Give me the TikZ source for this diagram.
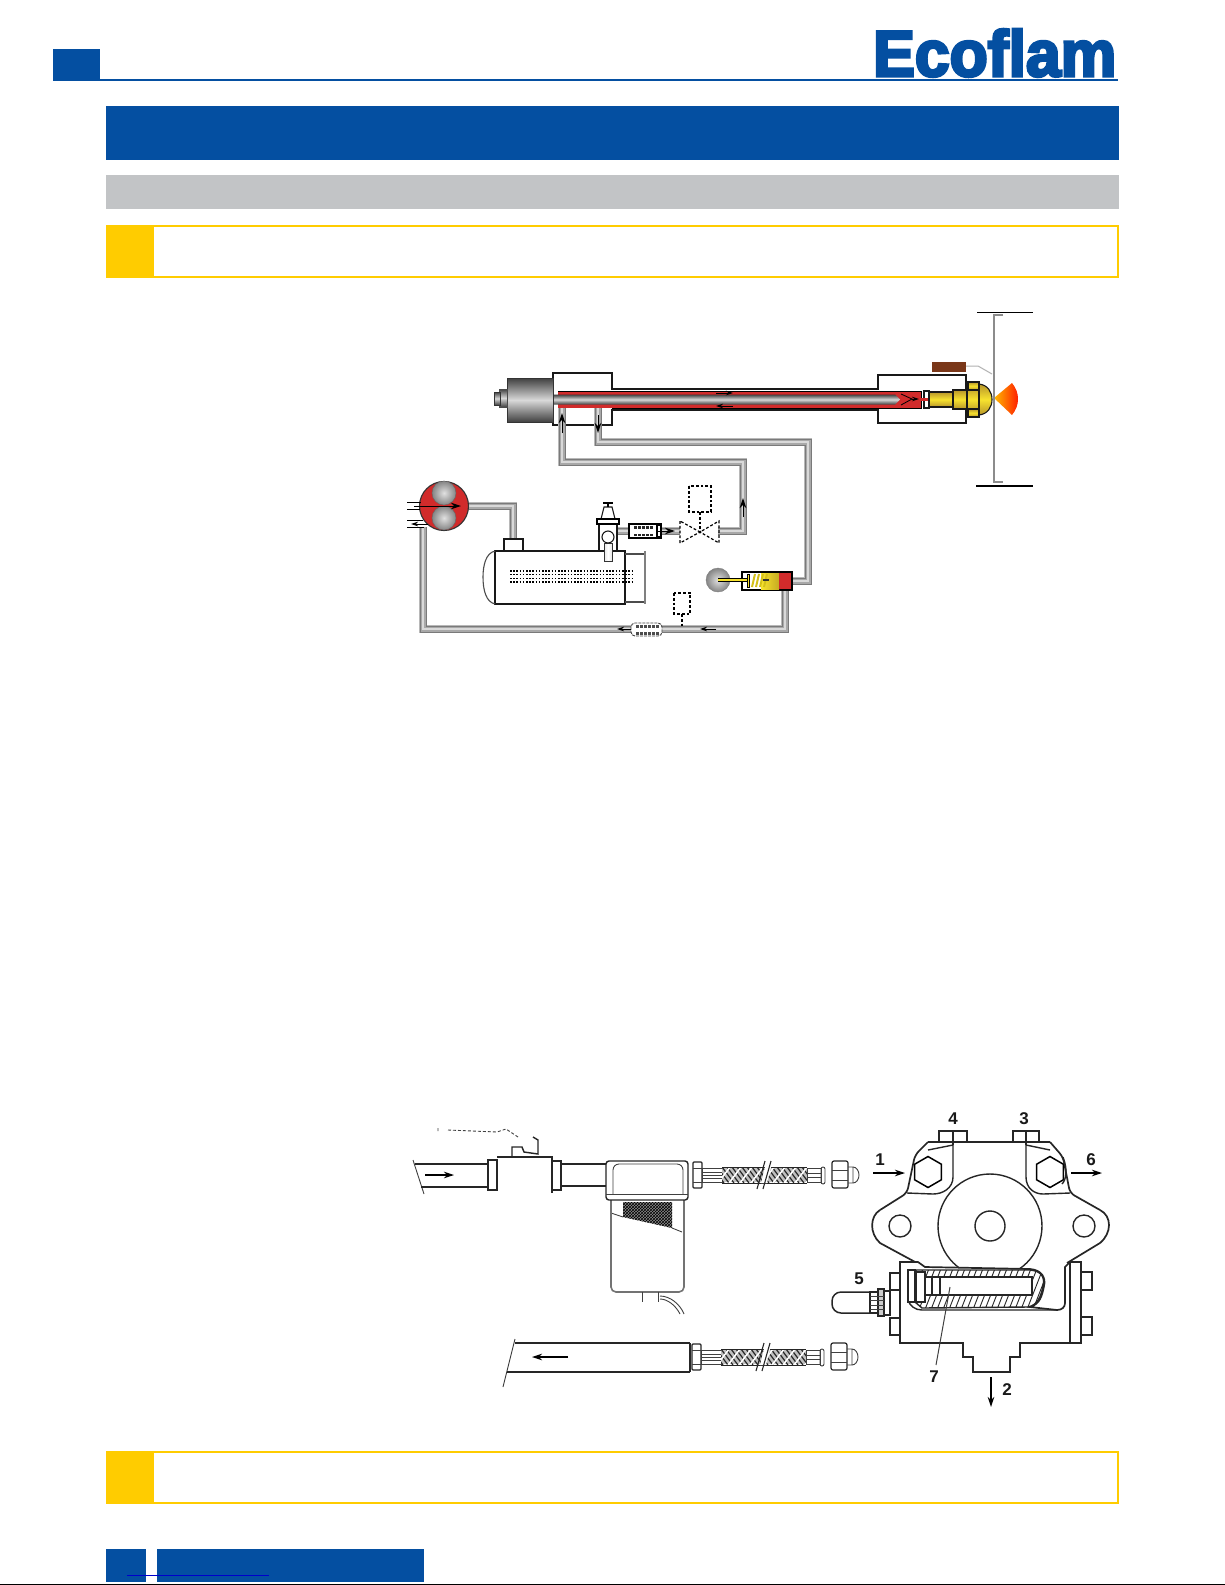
\documentclass[tikz,border=0pt]{standalone}
\usepackage{graphicx}
\usepackage{fontspec}
\setmainfont{Liberation Sans}
\newfontfamily\logofont[FakeBold=4.5]{Liberation Sans Bold}
\usetikzlibrary{patterns,shapes.geometric,arrows.meta}
\definecolor{ecoblue}{HTML}{044FA1}
\definecolor{ecoyellow}{HTML}{FFCC00}
\definecolor{ecogrey}{HTML}{C2C4C6}
\definecolor{ecored}{HTML}{D12B2B}
\definecolor{brassA}{HTML}{F7E22E}
\definecolor{brassB}{HTML}{B8962A}
\tikzset{
 pipe/.style={line join=miter,draw=black!28,line width=8.5pt,
   postaction={draw=black!52,line width=7pt},
   postaction={draw=black!34,line width=5pt},
   postaction={draw=black!15,line width=2.6pt}},
 outline/.style={draw=black!90,line width=1.1pt},
 heavy/.style={draw=black,line width=1.4pt},
 dash box/.style={draw=black,line width=1.2pt,dash pattern=on 2.8pt off 2pt},
 arrowline/.style={draw=black,line width=1pt,-{Stealth[length=10pt,width=6.5pt]}},
 smallarrow/.style={draw=black,line width=.8pt,-{Stealth[length=7pt,width=4.5pt]}},
 sketch/.style={draw=black!85,line width=1.4pt},
 thinsketch/.style={draw=black!75,line width=.9pt},
 bignum/.style={font=\bfseries\fontsize{17}{17}\selectfont,text=black!90,inner sep=0pt},
 steel/.style={top color=black!75,bottom color=black!75,middle color=black!15},
 brass/.style={top color=brassB,bottom color=brassB,middle color=brassA,draw=black!90,line width=1.1pt},
 ballfill/.style={inner color=black!12,outer color=black!48},
}
\newcommand{\hoseat}[2]{%
 \begin{scope}[shift={(#1,#2)}]
  \draw[sketch,line width=1.1pt,rounded corners=1pt] (0,-13) rectangle (9,13);
  \draw[thinsketch] (0,-7)--(9,-7) (0,7)--(9,7);
  \draw[thinsketch] (9,-7) rectangle (29,7) (9,-3)--(29,-3) (9,0)--(29,0) (9,3)--(29,3);
  \begin{scope}
   \clip (29,-7) rectangle (114,7);
   \fill[black!25] (29,-7) rectangle (114,7);
   \foreach \bx in {14,19,...,120}{\draw[black!85,line width=1.2pt] (\bx,-8)--(\bx+12,8);}
   \foreach \bx in {26,37,...,126}{\draw[white,line width=1.5pt] (\bx,-8)--(\bx-12,8);}
  \end{scope}
  \draw[sketch,line width=1pt] (29,-8)--(114,-8) (29,8)--(114,8);
  \fill[white] (72,-8)--(78,-8)--(74,8)--(68,8)--cycle;
  \draw[sketch,line width=1.1pt] (72,-14)--(64,14) (78,-14)--(70,14);
  \draw[thinsketch] (114,-7) rectangle (128,7) (114,-2)--(128,-2) (114,2)--(128,2);
  \draw[thinsketch,rounded corners=2pt] (128,-8) rectangle (132,9);
  \draw[sketch,line width=1.2pt,rounded corners=2pt] (139,-14) rectangle (155,13);
  \draw[thinsketch] (139,-5)--(155,-5) (139,5)--(155,5);
  \draw[thinsketch] (155,-8)--(160,-8) (155,8)--(160,8) (160,-8) arc (90:-90:6pt and 8pt) (160,-8)--(160,8);
 \end{scope}}
\begin{document}
\begin{tikzpicture}[x=1pt,y=-1pt]
\useasboundingbox (0,0) rectangle (1225,1585);
\fill[white] (0,0) rectangle (1225,1585);
% ---- page furniture
\fill[ecoblue] (53,49) rectangle (100,80);
\draw[ecoblue,line width=1.6pt] (53,80)--(1118,80);
\node[anchor=south west,inner sep=0pt,text=ecoblue] (logo) at (873,77) {\resizebox{243pt}{47pt}{\logofont Ecoflam}};
\fill[ecoblue] (106,106) rectangle (1119,160);
\fill[ecogrey] (106,175) rectangle (1119,209);
\draw[ecoyellow,line width=2pt] (107,226) rectangle (1118,277);
\fill[ecoyellow] (106,225) rectangle (154,278);
\draw[ecoyellow,line width=2pt] (107,1452) rectangle (1118,1503);
\fill[ecoyellow] (106,1451) rectangle (154,1504);
\fill[ecoblue] (106,1549) rectangle (146,1582);
\fill[ecoblue] (157,1549) rectangle (424,1582);
\draw[color={rgb,255:red,0;green,0;blue,204},line width=1pt] (127,1575.5)--(269,1575.5);
\draw[black,line width=1pt] (0,1584.5)--(1225,1584.5);

% ---- upper figure: named way points
\coordinate (burnIn) at (562,408);
\coordinate (burnOut) at (598,408);
\coordinate (valveOut) at (718,531);
\coordinate (regIn) at (792,581);
\coordinate (regOut) at (785,590);
\coordinate (pumpRet) at (423,527);
\coordinate (pumpOut) at (468,506);
\coordinate (tankTop) at (513,540);
\coordinate (filtOut) at (617,531);
\coordinate (valveIn) at (680,531);

% housings
\draw[outline] (553,425)--(553,373)--(612,373)--(612,389)--(878,389)--(878,375)--(966,375)--(966,423)--(878,423)--(878,410)--(612,410)--(612,425)--cycle;
% pipes
\draw[pipe] (burnIn)--(562,462)--(743,462)--(743,531)--(valveOut);
\draw[pipe] (burnOut)--(598,442)--(808,442)--(808,581)--(regIn);
\draw[pipe] (regOut)--(785,629)--(423,629)--(pumpRet);
\draw[pipe] (pumpOut)--(513,506)--(tankTop);
\draw[pipe] (filtOut)--(valveIn);
% tube with red channel
\fill[ecored] (558,391) rectangle (921,408);
\shade[steel] (553,394.5) -- (895,394.5) -- (900,399.5) -- (895,404.5) -- (553,404.5) -- cycle;
\draw[black,line width=.9pt] (558,391)--(921,391)--(921,408)--(612,408);
\draw[black,line width=.8pt] (901,394)--(912,399)--(901,405);
\draw[smallarrow] (912,399)--(919,399);
\draw[smallarrow] (716,393)--(733,393);
\draw[smallarrow] (733,406)--(716,406);
% back cylinder and bolt
\shade[steel,draw=black!80,line width=1pt] (507,378) rectangle (553,422);
\shade[steel,draw=black!70,line width=.8pt] (499,389) rectangle (507,407);
\shade[steel,draw=black!80,line width=.8pt] (494,392) rectangle (500,405);
% nozzle
\draw[outline,fill=white] (924,391) rectangle (929,408);
\fill[ecored] (921,398) rectangle (929,401);
\path[brass] (979,384) .. controls (988,385) and (992,392) .. (992,399.5) .. controls (992,407) and (988,414) .. (979,415) -- cycle;
\path[brass] (929,392) rectangle (953,407);
\path[brass] (953,390) rectangle (967,409);
\path[brass] (967,386) rectangle (979,413);
\path[brass] (968,382) rectangle (979,390);
\path[brass] (968,409) rectangle (979,417);
% flame
\shade[left color=orange!55!yellow,right color=red!75!orange] (994,398) -- (1012,383) .. controls (1016,388) and (1018,393) .. (1018,399) .. controls (1018,405) and (1016,410) .. (1012,415) -- cycle;
% combustion head
\draw[black!45,line width=2pt] (1003,315)--(994,315)--(994,482)--(1003,482);
\draw[black,line width=1pt] (977,312)--(1033,312);
\draw[black,line width=2pt] (976,486)--(1033,486);
\fill[color={rgb,255:red,122;green,55;blue,25}] (932,362) rectangle (966,372);
\draw[black!30,line width=1pt] (966,366)--(978,366)--(992,374);

% pump
\draw[fill=ecored,draw=black!80,line width=1.1pt] (444,506) circle (24.5pt);
\shade[ballfill,draw=black!60] (444,493) circle (12pt);
\shade[ballfill,draw=black!60] (444,518) circle (12pt);
\draw[black,line width=.9pt] (407,502)--(421,502) (407,509)--(420,509) (407,520)--(423,520) (407,527)--(424,527);
\draw[arrowline] (414,506)--(461,506);
\draw[smallarrow] (428,524)--(411,524);
% tank
\draw[outline,fill=white] (495,551) rectangle (625,604);
\draw[outline,draw=black!70] (495,551) .. controls (486,553) and (483,565) .. (483,577) .. controls (483,590) and (486,602) .. (495,604);
\draw[outline,draw=black!70] (625,554)--(644,554) (625,602)--(644,602);
\draw[black!50,line width=2pt] (645,551)--(645,604);
\draw[outline,fill=white] (504,539) rectangle (523,551);
\foreach \yy in {571,574.7,578.4,582}{\draw[black,line width=1.3pt,dash pattern=on 1.6pt off 1.6pt] (510,\yy)--(633,\yy);}
% regulator on top of tank
\draw[outline,fill=white] (599,524) rectangle (617,551);
\shade[left color=black!10,right color=black!10,middle color=white,draw=black!80] (604,543) rectangle (612,561);
\draw[outline,fill=white] (601,519)--(604,507)--(612,507)--(615,519)--cycle;
\draw[heavy] (597,519) rectangle (619,524);
\draw[heavy] (603,503)--(613,503) (608,503)--(608,507);
\draw[outline,fill=white] (608,537) circle (6pt);
% filter on suction
\draw[heavy,fill=white] (629,524) rectangle (661,538);
\draw[heavy,fill=white] (657,525) rectangle (661,537);
\foreach \xx in {634,638,642,646,650}{\fill[black!85] (\xx,526) rectangle +(2.6,2.6);\fill[black!85] (\xx,533.5) rectangle +(2.6,2.6);}
\draw[arrowline] (656,531)--(675,531);
% dashed valve
\draw[dash box] (680,521)--(680,543)--(700,532)--(719,543)--(719,521)--(700,532)--cycle;
\draw[dash box] (689,486) rectangle (711,512);
\draw[dash box] (700,512)--(700,532);
\fill[black] (700,532) circle (1.5pt);
% small flow arrows
\draw[arrowline] (562,433)--(562,413);
\draw[arrowline] (598,415)--(598,433);
\draw[arrowline] (743,517)--(743,498);
% pressure regulator
\shade[ballfill,draw=black!50] (718,580) circle (12pt);
\draw[heavy,line width=1.7pt,fill=white] (742,572) rectangle (792,590);
\shade[left color=brassA,right color=brassB!80!yellow] (761,573) rectangle (779,589);
\fill[ecored] (779,573) rectangle (791,589);
\draw[black,line width=4pt] (718,580)--(747,580);
\draw[color=brassA,line width=2.4pt] (718,580)--(747,580);
\draw[black,fill=brassA] (747,574) rectangle (749.5,587);
\foreach \xx in {752,756,760,764}{\draw[brassB!60!yellow,line width=2pt] (\xx,587)--(\xx+3,574);}
\fill[black!80] (763,579) rectangle (769,581);
% return line filter and dashed box
\draw[dash box] (674,593) rectangle (690,614);
\draw[dash box] (682,614)--(682,627);
\draw[thinsketch,fill=white,dash pattern=on 3pt off 1pt,rounded corners=4pt] (631,623) rectangle (662,636);
\foreach \xx in {636,640,644,648,652,656}{\fill[black!70] (\xx,625) rectangle +(2.5,2.5);\fill[black!70] (\xx,632) rectangle +(2.5,2.5);}
\draw[smallarrow] (716,629)--(700,629);
\draw[smallarrow] (631,629)--(617,629);

% ---- lower left: line with valve and filter
\draw[thinsketch] (413,1160)--(424,1194);
\draw[sketch] (415,1164)--(488,1164) (421,1187)--(488,1187);
\draw[arrowline,line width=1.3pt] (425,1175)--(454,1175);
\draw[sketch] (488,1160) rectangle (497,1190);
\draw[sketch] (497,1157)--(552,1157)--(552,1193);
\draw[sketch] (552,1161) rectangle (561,1190);
\draw[sketch] (561,1164)--(606,1164) (561,1186)--(606,1186);
\draw[thinsketch,dash pattern=on 3pt off 2pt] (438,1128)--(438,1132) (448,1130)--(497,1132)--(506,1129)--(518,1137);
\draw[sketch] (512,1157)--(512,1147)--(522,1147)--(524,1152)--(538,1154)--(538,1140)--(533,1137);
% filter bowl
\fill[black!45] (623,1202)--(672,1202)--(672,1228)--(623,1217)--cycle;
\fill[pattern=crosshatch,pattern color=black] (623,1202)--(672,1202)--(672,1228)--(623,1217)--cycle;
\draw[thinsketch] (611,1213)--(623,1217) (672,1228)--(682,1232);
\draw[black!55,line width=1.6pt,rounded corners=5pt] (611,1200)--(611,1292)--(684,1292)--(684,1200);
\draw[sketch,rounded corners=3pt] (606,1200)--(606,1161)--(688,1161)--(688,1200)--cycle;
\draw[thinsketch,rounded corners=6pt] (613,1194)--(613,1164)--(683,1164)--(683,1194);
\draw[thinsketch] (606,1194)--(688,1194);
\draw[thinsketch] (642,1292)--(642,1302) (658,1292)--(658,1302);
\draw[thinsketch] (660,1296) .. controls (670,1296) and (680,1304) .. (684,1314) (660,1299) .. controls (668,1299) and (676,1306) .. (680,1314);
\hoseat{693}{1175}
% lower line
\draw[thinsketch] (515,1339)--(503,1387);
\draw[sketch] (515,1343)--(690,1343) (507,1372)--(690,1372);
\draw[arrowline,line width=1.3pt] (568,1357)--(532,1357);
\draw[sketch] (690,1343)--(690,1372);
\hoseat{692}{1357}

% ---- oil pump
\draw[sketch,line width=1.5pt] (928,1142) -- (1050,1142);
\draw[sketch,line width=1.7pt,rounded corners=5pt] (928,1142)--(915,1155)--(907,1193)--(880,1210);
\draw[sketch,line width=1.7pt] (880,1210) .. controls (870,1216) and (869,1233) .. (880,1243) -- (917,1263);
\draw[sketch,line width=1.7pt,rounded corners=5pt] (1050,1142)--(1063,1157)--(1070,1193)--(1100,1210);
\draw[sketch,line width=1.7pt] (1100,1210) .. controls (1112,1216) and (1112,1233) .. (1100,1243) -- (1067,1263);
\draw[sketch] (953,1145)--(953,1177) .. controls (953,1188) and (943,1194) .. (933,1194) -- (907,1193);
\draw[sketch] (1026,1145)--(1026,1177) .. controls (1026,1188) and (1034,1194) .. (1043,1194) -- (1070,1193);
\draw[sketch] (928,1150)--(953,1145) (1026,1145)--(1050,1150);
\draw[sketch] (939,1142)--(939,1131)--(967,1131)--(967,1142) (953,1131)--(953,1145);
\draw[sketch] (1013,1142)--(1013,1131)--(1039,1131)--(1039,1142) (1026,1131)--(1026,1145);
\node[regular polygon,regular polygon sides=6,shape border rotate=30,draw=black,line width=1.5pt,fill=white,minimum size=31pt,inner sep=0pt] (hexL) at (928,1172) {};
\node[regular polygon,regular polygon sides=6,shape border rotate=30,draw=black,line width=1.5pt,fill=white,minimum size=31pt,inner sep=0pt] (hexR) at (1050,1172) {};
\draw[sketch] (1063,1157) .. controls (1068,1170) and (1066,1180) .. (1062,1184);
\begin{scope}
 \clip (900,1100) rectangle (1100,1270);
 \draw[sketch] (990,1226) circle (52pt);
\end{scope}
\draw[sketch] (990,1226) circle (15pt);
\draw[sketch] (900,1226) circle (11pt);
\draw[sketch] (1084,1226) circle (11pt);
% lower body
\draw[sketch,line width=1.7pt,fill=white] (900,1262)--(918,1262)--(925,1267)--(1030,1269)
  .. controls (1042,1270) and (1046,1278) .. (1044,1286) .. controls (1042,1296) and (1040,1304) .. (1030,1307)
  -- (1057,1310) .. controls (1062,1310) and (1065,1307) .. (1065,1303) -- (1065,1267)--(1070,1262)--(1081,1262)--(1081,1343)--(1020,1343)--(1020,1357)--(1010,1357)--(1010,1372)--(973,1372)--(973,1357)--(963,1357)--(963,1343)--(900,1343)--cycle;
\draw[sketch] (1070,1262)--(1070,1343);
\draw[sketch] (908,1300) .. controls (910,1306) and (915,1310) .. (922,1310)--(1057,1310);
% hatched filter cartridge
\begin{scope}
 \clip (915,1270)--(1030,1270) .. controls (1042,1271) and (1045,1278) .. (1043,1286) .. controls (1041,1296) and (1038,1305) .. (1028,1307)--(922,1308)--(915,1302)--cycle;
 \foreach \xx in {900,906,...,1070}{\draw[black!85,line width=.9pt] (\xx,1312)--(\xx+18,1266);}
\end{scope}
\draw[sketch] (915,1270)--(1030,1270) .. controls (1042,1271) and (1045,1278) .. (1043,1286) .. controls (1041,1296) and (1038,1305) .. (1028,1307)--(922,1308)--(915,1302);
\draw[sketch,fill=white] (925,1277) rectangle (1032,1295);
\draw[sketch,fill=white] (916,1272) rectangle (925,1302);
\draw[sketch,fill=white] (908,1270) rectangle (915,1302);
\draw[sketch] (925,1277)--(925,1295) (932,1277)--(932,1295) (940,1277)--(940,1295);
% side bolts
\draw[sketch,fill=white] (890,1273) rectangle (900,1290) (890,1318) rectangle (900,1335);
\draw[sketch,fill=white] (1081,1272) rectangle (1092,1290) (1081,1317) rectangle (1092,1335);
% gauge connection
\draw[sketch,line width=1.5pt,fill=white,rounded corners=9pt] (870,1292)--(832,1292)--(832,1313)--(870,1313);
\draw[sketch,fill=white] (870,1292) rectangle (878,1313);
\draw[sketch,fill=black!20] (878,1289) rectangle (884,1316);
\draw[sketch,fill=white] (884,1291) rectangle (890,1315);
\draw[thinsketch] (870,1296)--(884,1296) (870,1300)--(884,1300) (870,1305)--(884,1305) (870,1309)--(884,1309);
\draw[thinsketch,line width=1pt] (950,1287)--(936,1365);
% labels and arrows
\node[bignum] (n4) at (953,1119) {4};
\node[bignum] (n3) at (1024,1119) {3};
\node[bignum] (n1) at (880,1160) {1};
\node[bignum] (n6) at (1091,1160) {6};
\node[bignum] (n5) at (859,1279) {5};
\node[bignum] (n7) at (934,1377) {7};
\node[bignum] (n2) at (1007,1390) {2};
\draw[arrowline,line width=1.6pt] (873,1173)--(905,1173);
\draw[arrowline,line width=1.6pt] (1071,1173)--(1102,1173);
\draw[arrowline,line width=1.6pt] (991,1377)--(991,1407);
\end{tikzpicture}
\end{document}
